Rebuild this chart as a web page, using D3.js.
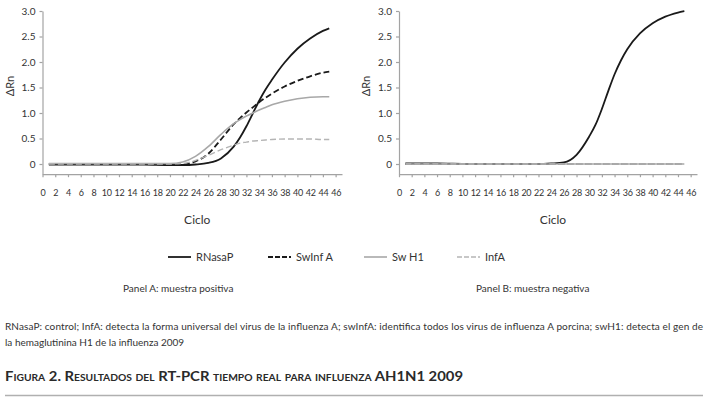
<!DOCTYPE html>
<html>
<head>
<meta charset="utf-8">
<script src="https://cdn.jsdelivr.net/npm/d3@7"></script>
<style>
  body { margin: 0; background: #fff; }
  svg { display: block; font-family: Lato, 'Open Sans', sans-serif; }
  .axis path, .axis line { stroke: #a3a3a3; stroke-width: 1.2; }
  .axis text { fill: #333; font-size: 10px; font-family: Lato, 'Open Sans', sans-serif; }
  .x-axis text { font-size: 9px; letter-spacing: -0.3px; }
</style>
</head>
<body>
<div id="main"></div>
<script>
const cycles = [1, 6, 11, 16, 20, 22, 24, 26, 28, 30, 31, 32, 33, 34, 35, 36, 38, 40, 42, 44, 45]

// Panel A: muestra positiva
const rnasaPA = [-0.01, -0.01, -0.01, -0.01, -0.02, -0.02, -0.01, 0.02, 0.11, 0.34, 0.52, 0.74, 0.99, 1.24, 1.46, 1.65, 1.99, 2.26, 2.46, 2.61, 2.66]
const swInfAA = [0, 0, 0, 0, -0.01, -0.01, 0.05, 0.2, 0.48, 0.78, 0.9, 1.01, 1.11, 1.21, 1.3, 1.38, 1.52, 1.63, 1.72, 1.79, 1.81]
const swH1A = [0.01, 0.01, 0.01, 0.01, 0.01, 0.04, 0.15, 0.34, 0.58, 0.79, 0.87, 0.94, 1.0, 1.06, 1.11, 1.16, 1.23, 1.28, 1.31, 1.32, 1.32]
const infAA = [0, 0, 0, 0, 0, 0.01, 0.07, 0.17, 0.28, 0.37, 0.41, 0.43, 0.45, 0.46, 0.47, 0.48, 0.49, 0.49, 0.49, 0.48, 0.48]

// Panel B: muestra negativa
const rnasaPB = [0.01, 0.01, 0, 0, 0, 0, 0.01, 0.03, 0.18, 0.54, 0.77, 1.08, 1.43, 1.76, 2.03, 2.25, 2.56, 2.76, 2.89, 2.97, 3.0]
const swInfAB = [0, 0, 0, 0, 0, 0, 0, 0, 0, 0, 0, 0, 0, 0, 0, 0, 0, 0, 0, 0, 0]
const swH1B = [0, 0, 0, 0, 0, 0, 0, 0, 0, 0, 0, 0, 0, 0, 0, 0, 0, 0, 0, 0, 0]
const infAB = [0, 0, 0, 0, 0, 0, 0, 0, 0, 0, 0, 0, 0, 0, 0, 0, 0, 0, 0, 0, 0]

const seriesNames = ['RNasaP', 'SwInf A', 'Sw H1', 'InfA']
const yTicks = [0, 0.5, 1, 1.5, 2, 2.5, 3]
const xTicks = [0, 2, 4, 6, 8, 10, 12, 14, 16, 18, 20, 22, 24, 26, 28, 30, 32, 34, 36, 38, 40, 42, 44, 46]

const panelTitles = ['Panel A: muestra positiva', 'Panel B: muestra negativa']
const footnote = [
  'RNasaP: control; InfA:  detecta la forma universal del virus de la influenza A; swInfA: identifica todos los virus de influenza A porcina; swH1: detecta el gen de',
  'la hemaglutinina H1 de la influenza 2009'
]
const figureTitle = 'Figura 2. Resultados del RT-PCR tiempo real para influenza AH1N1 2009'

// line style per series, same order as seriesNames
const styles = [
  { color: '#1a1a1a', dash: null, width: 1.8 },
  { color: '#1a1a1a', dash: '6,3', width: 1.8 },
  { color: '#a8a8a8', dash: null, width: 1.6 },
  { color: '#b5b5b5', dash: '6,3', width: 1.4 }
]

const W = 706
const H = 399

const svg = d3.select('#main')
  .append('svg')
  .attr('width', W)
  .attr('height', H)

function drawPanel (left, right, series) {
  const x = d3.scaleLinear().domain([0, 47]).range([left, right])
  const y = d3.scaleLinear().domain([-0.2, 3]).range([174.2, 11])

  const g = svg.append('g')

  g.append('g')
    .attr('class', 'axis x-axis')
    .attr('transform', `translate(0, ${y(-0.2)})`)
    .call(d3.axisBottom(x).tickValues(xTicks).tickSizeInner(3).tickSizeOuter(0).tickPadding(12))

  g.append('g')
    .attr('class', 'axis')
    .attr('transform', `translate(${x(0)}, 0)`)
    .call(d3.axisLeft(y).tickValues(yTicks).tickSizeInner(3).tickSizeOuter(0).tickPadding(4)
      .tickFormat((d) => (d === 0 ? '0' : d3.format('.1f')(d))))

  g.append('text')
    .attr('transform', `translate(${x(0) - 29}, 86) rotate(-90)`)
    .attr('text-anchor', 'middle')
    .attr('font-size', 11)
    .attr('fill', '#333')
    .text('ΔRn')

  g.append('text')
    .attr('x', (x(0) + x(47)) / 2 + 5)
    .attr('y', 224)
    .attr('text-anchor', 'middle')
    .attr('font-size', 12)
    .attr('fill', '#333')
    .text('Ciclo')

  const line = d3.line()
    .x((d) => x(d[0]))
    .y((d) => y(d[1]))
    .curve(d3.curveMonotoneX)

  for (let i = 0; i < series.length; i++) {
    const pts = cycles.map((c, k) => [c, series[i][k]])
    g.append('path')
      .datum(pts)
      .attr('d', line)
      .attr('fill', 'none')
      .attr('stroke', styles[i].color)
      .attr('stroke-width', styles[i].width)
      .attr('stroke-dasharray', styles[i].dash)
  }
}

drawPanel(42.5, 342, [rnasaPA, swInfAA, swH1A, infAA])
drawPanel(399, 697, [rnasaPB, swInfAB, swH1B, infAB])

// legend
const legendX = [168, 268, 364, 457]
const legend = svg.append('g')
seriesNames.forEach((name, i) => {
  legend.append('line')
    .attr('x1', legendX[i])
    .attr('x2', legendX[i] + 23)
    .attr('y1', 257)
    .attr('y2', 257)
    .attr('stroke', styles[i].color)
    .attr('stroke-width', styles[i].width)
    .attr('stroke-dasharray', styles[i].dash ? '5,2' : null)
  legend.append('text')
    .attr('x', legendX[i] + 28)
    .attr('y', 261)
    .attr('font-size', 11)
    .attr('fill', '#333')
    .text(name)
})

svg.selectAll('.panel-title')
  .data(panelTitles)
  .enter()
  .append('text')
  .attr('class', 'panel-title')
  .attr('x', (d, i) => [123, 476][i])
  .attr('y', 292)
  .attr('font-size', 10)
  .attr('fill', '#333')
  .text((d) => d)

svg.append('text')
  .attr('x', 5)
  .attr('y', 330)
  .attr('font-size', 10)
  .attr('fill', '#333')
  .attr('textLength', 698)
  .attr('lengthAdjust', 'spacing')
  .text(footnote[0])

svg.append('text')
  .attr('x', 5)
  .attr('y', 346)
  .attr('font-size', 10)
  .attr('fill', '#333')
  .text(footnote[1])

svg.append('text')
  .attr('x', 5)
  .attr('y', 381)
  .attr('font-size', 13)
  .attr('font-weight', 'bold')
  .attr('fill', '#2a2a2a')
  .style('font-variant', 'small-caps')
  .attr('textLength', 458)
  .attr('lengthAdjust', 'spacingAndGlyphs')
  .text(figureTitle)

svg.append('line')
  .attr('x1', 5)
  .attr('x2', 703)
  .attr('y1', 395.5)
  .attr('y2', 395.5)
  .attr('stroke', '#b0b0b0')
  .attr('stroke-width', 1.5)
</script>
</body>
</html>
